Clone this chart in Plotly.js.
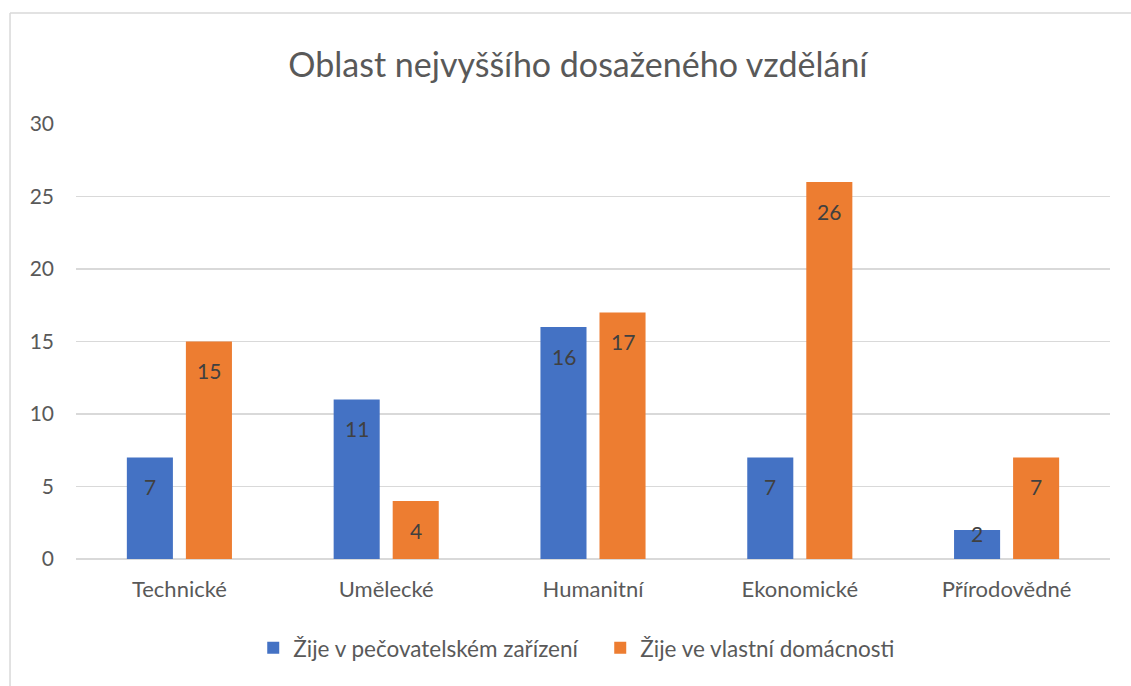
<!DOCTYPE html>
<html>
<head>
<meta charset="utf-8">
<script src="https://cdn.plot.ly/plotly-3.0.1.min.js"></script>
<style>
html,body{margin:0;padding:0;background:#fff;}
#chart{width:1131px;height:686px;}
</style>
</head>
<body>
<div id="chart"></div>
<script>
const categories = ['Technické', 'Umělecké', 'Humanitní', 'Ekonomické', 'Přírodovědné'];
const seriesNames = ['Žije v pečovatelském zařízení', 'Žije ve vlastní domácnosti'];
const careHome = [7, 11, 16, 7, 2];
const ownHome = [15, 4, 17, 26, 7];
const yTicks = [0, 5, 10, 15, 20, 25, 30];
const chartTitle = 'Oblast nejvyššího dosaženého vzdělání';

const FONT = 'Lato, "Open Sans", sans-serif';
const colors = ['#4472C4', '#ED7D31'];
const series = [careHome, ownHome];

const traces = series.map((vals, s) => ({
  type: 'bar',
  name: seriesNames[s],
  x: categories,
  y: vals,
  marker: {color: colors[s], line: {width: 0}},
  hoverinfo: 'skip'
}));

const annotations = [];
series.forEach((vals, s) => {
  vals.forEach((v, i) => {
    annotations.push({
      x: categories[i], y: v, xref: 'x', yref: 'y',
      text: String(v), showarrow: false,
      xshift: s === 0 ? -29.5 : 29.5,
      yanchor: 'middle',
      yshift: v >= 3 ? -29 : -3,
      font: {family: FONT, size: 21, color: '#404040'}
    });
  });
});

const layout = {
  width: 1131, height: 686,
  margin: {l: 76, r: 21, t: 124, b: 127},
  paper_bgcolor: '#ffffff', plot_bgcolor: '#ffffff',
  font: {family: FONT, color: '#595959'},
  title: {
    text: chartTitle,
    font: {family: FONT, size: 34, color: '#595959'},
    x: 0.511, xanchor: 'center', y: 0.905, yanchor: 'middle'
  },
  barmode: 'group',
  bargap: 0.429,
  bargroupgap: 0.22,
  showlegend: true,
  legend: {
    orientation: 'h', x: 0.507, xanchor: 'center', y: -0.205, yanchor: 'middle',
    font: {family: FONT, size: 22.5, color: '#595959'},
    entrywidth: 302, entrywidthmode: 'pixels',
    traceorder: 'normal'
  },
  xaxis: {
    type: 'category',
    showgrid: false, zeroline: false, showline: false,
    ticks: '', ticklabelstandoff: 15,
    tickfont: {family: FONT, size: 22, color: '#595959'}
  },
  yaxis: {
    range: [0, 30], tickvals: yTicks, ticktext: yTicks.map(String),
    showgrid: true, gridcolor: '#D9D9D9', gridwidth: 1.5,
    zeroline: true, zerolinecolor: '#D9D9D9', zerolinewidth: 1.5,
    showline: false, ticks: '', ticklabelstandoff: 21,
    tickfont: {family: FONT, size: 21, color: '#595959'}
  },
  shapes: [
    {type: 'line', xref: 'paper', yref: 'paper', x0: -0.0638, x1: -0.0638, y0: -0.4, y1: 1.255,
     line: {color: '#D9D9D9', width: 1.5}},
    {type: 'line', xref: 'paper', yref: 'paper', x0: -0.0638, x1: 1.1, y0: 1.255, y1: 1.255,
     line: {color: '#D9D9D9', width: 1.5}}
  ],
  annotations: annotations
};

Plotly.newPlot('chart', traces, layout, {displayModeBar: false, staticPlot: true});
</script>
</body>
</html>
